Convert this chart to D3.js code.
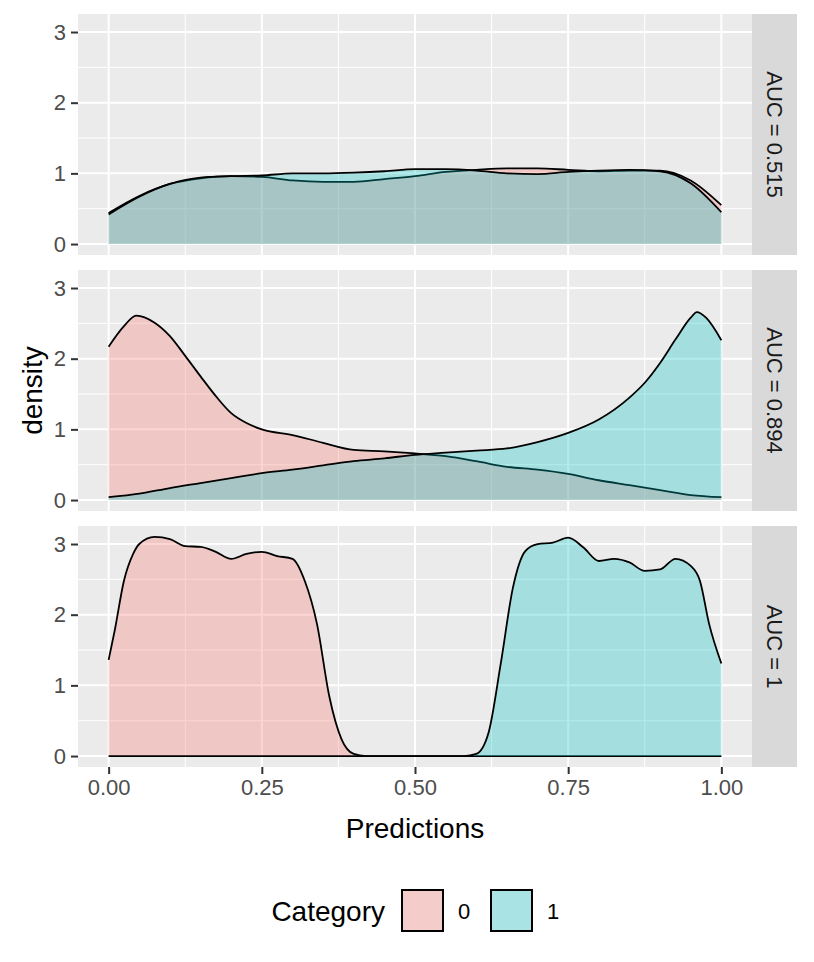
<!DOCTYPE html>
<html><head><meta charset="utf-8">
<script src="https://cdn.jsdelivr.net/npm/d3@7"></script>
<style>body{margin:0;background:#fff}svg{display:block}text{font-family:"Liberation Sans",Arial,sans-serif}</style>
</head><body><svg id="c" width="814" height="962"></svg>
<script>
// ---- data ----
const categories = ["0", "1"];
const panelLabels = ["AUC = 0.515", "AUC = 0.894", "AUC = 1"];
const xTicks = [0, 0.25, 0.5, 0.75, 1];
const xTickLabels = ["0.00", "0.25", "0.50", "0.75", "1.00"];
const yTicks = [0, 1, 2, 3];

const p1x = [0,0.05,0.1,0.15,0.2,0.25,0.3,0.35,0.4,0.45,0.5,0.55,0.6,0.65,0.7,0.75,0.8,0.85,0.9,0.95,1.0];
const p1cat0 = [0.44,0.68,0.85,0.93,0.96,0.95,0.90,0.88,0.88,0.92,0.96,1.02,1.05,1.07,1.07,1.05,1.03,1.04,1.04,0.90,0.55];
const p1cat1 = [0.42,0.67,0.85,0.94,0.96,0.97,1.00,1.00,1.01,1.03,1.06,1.06,1.04,1.00,0.99,1.02,1.04,1.05,1.03,0.86,0.45];

const p2x0 = [0,0.025,0.045,0.075,0.1,0.125,0.15,0.175,0.2,0.225,0.25,0.3,0.35,0.4,0.45,0.5,0.55,0.6,0.65,0.7,0.75,0.8,0.85,0.9,0.95,1.0];
const p2cat0 = [2.17,2.46,2.61,2.51,2.32,2.04,1.75,1.47,1.23,1.09,1.00,0.92,0.81,0.71,0.69,0.66,0.62,0.55,0.47,0.43,0.37,0.28,0.21,0.14,0.07,0.04];
const p2x1 = [0,0.05,0.1,0.15,0.2,0.25,0.3,0.35,0.4,0.45,0.5,0.55,0.6,0.65,0.7,0.75,0.8,0.85,0.875,0.9,0.925,0.95,0.96,0.975,1.0];
const p2cat1 = [0.04,0.09,0.17,0.24,0.31,0.38,0.43,0.49,0.55,0.59,0.64,0.67,0.70,0.73,0.82,0.95,1.14,1.45,1.66,1.94,2.27,2.58,2.66,2.58,2.26];

const p3x0 = [0,0.01,0.025,0.04,0.05,0.075,0.1,0.125,0.15,0.175,0.2,0.225,0.25,0.275,0.3,0.32,0.34,0.36,0.38,0.4,0.42,0.6,0.8,1.0];
const p3cat0 = [1.36,1.78,2.48,2.86,3.00,3.10,3.07,2.97,2.96,2.89,2.79,2.86,2.89,2.83,2.79,2.48,1.87,0.85,0.24,0.03,0,0,0,0];
const p3x1 = [0,0.2,0.4,0.58,0.6,0.62,0.64,0.66,0.68,0.7,0.725,0.75,0.775,0.8,0.825,0.85,0.875,0.9,0.925,0.95,0.965,0.98,1.0];
const p3cat1 = [0,0,0,0,0.03,0.33,1.31,2.39,2.90,3.00,3.02,3.09,2.95,2.76,2.79,2.74,2.62,2.64,2.79,2.69,2.48,1.87,1.31];

const panels = [
  {label: panelLabels[0], series: [{cat: "0", x: p1x, y: p1cat0}, {cat: "1", x: p1x, y: p1cat1}]},
  {label: panelLabels[1], series: [{cat: "0", x: p2x0, y: p2cat0}, {cat: "1", x: p2x1, y: p2cat1}]},
  {label: panelLabels[2], series: [{cat: "0", x: p3x0, y: p3cat0}, {cat: "1", x: p3x1, y: p3cat1}]}
];

// ---- layout ----
const svg = d3.select("#c");
const colors = d3.scaleOrdinal().domain(categories).range(["#F8766D", "#00BFC4"]);
const panelLeft = 78, panelRight = 752, stripW = 45;
const panelTops = [14, 270, 526], panelH = 241;
const x = d3.scaleLinear().domain([-0.05, 1.05]).range([panelLeft, panelRight]);
const minorX = [0.125, 0.375, 0.625, 0.875];
const minorY = [0.5, 1.5, 2.5];
const tickColor = "#4D4D4D";

panels.forEach((p, i) => {
  const top = panelTops[i];
  const y = d3.scaleLinear().domain([-0.155, 3.255]).range([top + panelH, top]);
  const g = svg.append("g");
  g.append("rect").attr("x", panelLeft).attr("y", top).attr("width", panelRight - panelLeft).attr("height", panelH).attr("fill", "#EBEBEB");
  // minor grid
  minorX.forEach(v => g.append("line").attr("x1", x(v)).attr("x2", x(v)).attr("y1", top).attr("y2", top + panelH).attr("stroke", "#fff").attr("stroke-width", 1));
  minorY.forEach(v => g.append("line").attr("x1", panelLeft).attr("x2", panelRight).attr("y1", y(v)).attr("y2", y(v)).attr("stroke", "#fff").attr("stroke-width", 1));
  xTicks.forEach(v => g.append("line").attr("x1", x(v)).attr("x2", x(v)).attr("y1", top).attr("y2", top + panelH).attr("stroke", "#fff").attr("stroke-width", 2));
  yTicks.forEach(v => g.append("line").attr("x1", panelLeft).attr("x2", panelRight).attr("y1", y(v)).attr("y2", y(v)).attr("stroke", "#fff").attr("stroke-width", 2));

  // densities
  p.series.forEach(s => {
    const pts = s.x.map((xv, k) => [xv, s.y[k]]);
    const area = d3.area().x(d => x(d[0])).y0(y(0)).y1(d => y(d[1])).curve(d3.curveMonotoneX);
    const line = d3.line().x(d => x(d[0])).y(d => y(d[1])).curve(d3.curveMonotoneX);
    g.append("path").attr("d", area(pts)).attr("fill", colors(s.cat)).attr("fill-opacity", 0.3);
    g.append("path").attr("d", line(pts)).attr("fill", "none").attr("stroke", "#000").attr("stroke-width", 1.8);
  });

  // y axis
  const ya = d3.axisLeft(y).tickValues(yTicks).tickSize(7).tickPadding(5).tickFormat(d3.format("d"));
  const ag = svg.append("g").attr("transform", `translate(${panelLeft},0)`).call(ya);
  ag.select(".domain").remove();
  ag.selectAll(".tick line").attr("stroke", "#333").attr("stroke-width", 2);
  ag.selectAll(".tick text").attr("fill", tickColor).style("font-size", "22px");

  // strip
  svg.append("rect").attr("x", panelRight).attr("y", top).attr("width", stripW).attr("height", panelH).attr("fill", "#D9D9D9");
  svg.append("text").attr("transform", `translate(${panelRight + stripW / 2},${top + panelH / 2}) rotate(90)`)
    .attr("text-anchor", "middle").attr("dy", "0.35em").attr("fill", "#1A1A1A").style("font-size", "22px").text(p.label);
});

// x axis
const bottom = panelTops[2] + panelH;
const xa = d3.axisBottom(x).tickValues(xTicks).tickSize(7).tickPadding(5).tickFormat((d, i) => xTickLabels[i]);
const xg = svg.append("g").attr("transform", `translate(0,${bottom})`).call(xa);
xg.select(".domain").remove();
xg.selectAll(".tick line").attr("stroke", "#333").attr("stroke-width", 2);
xg.selectAll(".tick text").attr("fill", tickColor).style("font-size", "22px");

svg.append("text").attr("x", (panelLeft + panelRight) / 2).attr("y", 838).attr("text-anchor", "middle")
  .attr("fill", "#000").style("font-size", "28px").text("Predictions");
svg.append("text").attr("transform", `translate(42,${(panelTops[0] + bottom) / 2}) rotate(-90)`).attr("text-anchor", "middle")
  .attr("fill", "#000").style("font-size", "28px").text("density");

// legend
const leg = svg.append("g");
leg.append("text").attr("x", 385).attr("y", 921).attr("text-anchor", "end").attr("fill", "#000").style("font-size", "28px").text("Category");
const keyX = [401, 490];
categories.forEach((c, i) => {
  leg.append("rect").attr("x", keyX[i]).attr("y", 889).attr("width", 43).attr("height", 43).attr("fill", "#F2F2F2");
  leg.append("rect").attr("x", keyX[i] + 1).attr("y", 890).attr("width", 41).attr("height", 41)
    .attr("fill", colors(c)).attr("fill-opacity", 0.3).attr("stroke", "#000").attr("stroke-width", 2);
  leg.append("text").attr("x", keyX[i] + 57).attr("y", 919).attr("fill", "#000").style("font-size", "22px").text(c);
});
</script></body></html>
